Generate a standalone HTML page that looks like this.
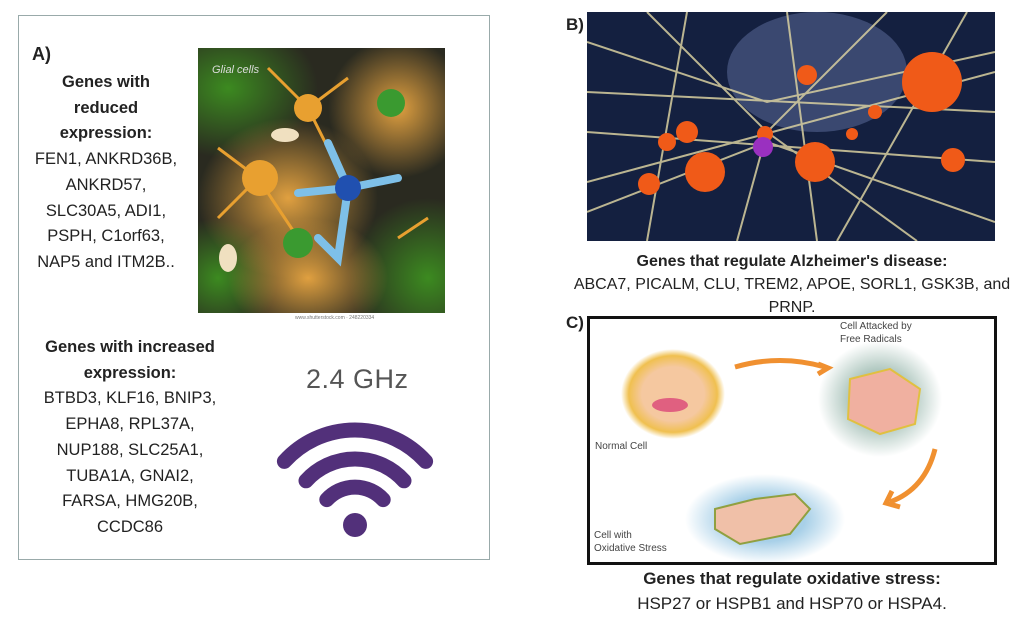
<!DOCTYPE html>
<html><head><meta charset="utf-8"><style>
html,body{margin:0;padding:0;background:#fff;width:1024px;height:624px;overflow:hidden}
body{position:relative;font-family:"Liberation Sans",sans-serif;color:#222}
.t{position:absolute;text-align:center;white-space:nowrap;line-height:25.7px}
.b{font-weight:bold}
</style></head><body>
<div style="position:absolute;left:18px;top:15px;width:470px;height:543px;border:1px solid #9aa;"></div>
<div class="t b" style="left:32px;top:42px;font-size:18px;text-align:left">A)</div>
<div class="t" style="left:0;width:212px;top:70px;font-size:16.5px">
<span class="b">Genes with<br>reduced<br>expression:</span><br>FEN1, ANKRD36B,<br>ANKRD57,<br>SLC30A5, ADI1,<br>PSPH, C1orf63,<br>NAP5 and ITM2B..</div>
<div class="t" style="left:20px;width:220px;top:335px;font-size:16.5px">
<span class="b">Genes with increased<br>expression:</span><br>BTBD3, KLF16, BNIP3,<br>EPHA8, RPL37A,<br>NUP188, SLC25A1,<br>TUBA1A, GNAI2,<br>FARSA, HMG20B,<br>CCDC86</div>

<svg style="position:absolute;left:198px;top:48px" width="247" height="265">
<defs>
<radialGradient id="o1" cx=".5" cy=".5" r=".5"><stop offset="0" stop-color="#e0a040"/><stop offset="1" stop-color="#e0a040" stop-opacity="0"/></radialGradient>
<radialGradient id="g1" cx=".5" cy=".5" r=".5"><stop offset="0" stop-color="#3c8a20"/><stop offset="1" stop-color="#3c8a20" stop-opacity="0"/></radialGradient>
</defs>
<rect width="247" height="265" fill="#2a2a20"/>
<ellipse cx="30" cy="40" rx="90" ry="70" fill="url(#g1)"/>
<ellipse cx="230" cy="230" rx="80" ry="80" fill="url(#g1)"/>
<ellipse cx="20" cy="230" rx="60" ry="60" fill="url(#g1)"/>
<ellipse cx="200" cy="60" rx="70" ry="70" fill="url(#o1)"/>
<ellipse cx="90" cy="150" rx="90" ry="80" fill="url(#o1)"/>
<ellipse cx="110" cy="230" rx="80" ry="60" fill="url(#o1)"/>
<text x="14" y="25" fill="#ddd" font-size="11" font-style="italic">Glial cells</text>
<g stroke="#e8a030" stroke-width="3" fill="none"><path d="M110 60 L70 20 M110 60 L150 30 M110 60 L140 120 M60 130 L20 100 M60 130 L20 170 M60 130 L100 190 M200 190 L230 170"/></g>
<circle cx="110" cy="60" r="14" fill="#e8a030"/><circle cx="62" cy="130" r="18" fill="#e8a030"/>
<circle cx="193" cy="55" r="14" fill="#3a9a30"/><circle cx="100" cy="195" r="15" fill="#3a9a30"/>
<g stroke="#7ec0e8" stroke-width="8" fill="none" stroke-linecap="round"><path d="M130 95 L150 140 L200 130 M150 140 L100 145 M150 140 L140 210 L120 190"/></g>
<circle cx="150" cy="140" r="13" fill="#2050b0"/>
<ellipse cx="87" cy="87" rx="14" ry="7" fill="#f0e0c0"/><ellipse cx="30" cy="210" rx="9" ry="14" fill="#f0e0c0"/>
</svg>
<div style="position:absolute;left:295px;top:315px;font-size:5px;color:#777">www.shutterstock.com · 248220334</div>

<div style="position:absolute;left:306px;top:364px;font-size:27px;color:#555;letter-spacing:0.5px">2.4 GHz</div>
<svg style="position:absolute;left:270px;top:400px" width="170" height="150">
<g stroke="#52307a" stroke-width="15" fill="none" stroke-linecap="round">
<path d="M14.4 61.4 A95 95 0 0 1 155.6 61.4"/>
<path d="M36 80.8 A66 66 0 0 1 134 80.8"/>
<path d="M56.8 99.6 A38 38 0 0 1 113.2 99.6"/>
</g><circle cx="85" cy="125" r="12" fill="#52307a"/></svg>

<div class="t b" style="left:566px;top:12px;font-size:17px;text-align:left">B)</div>
<svg style="position:absolute;left:587px;top:12px" width="408" height="229">
<rect width="408" height="229" fill="#142040"/>
<ellipse cx="230" cy="60" rx="90" ry="60" fill="#6070a0" opacity=".5"/>
<g stroke="#d8d0a0" stroke-width="2" fill="none" opacity=".85">
<path d="M0 30 L180 90 L408 40 M0 200 L180 130 L408 210 M60 0 L180 120 L150 229 M300 0 L180 120 L330 229 M0 120 L408 150 M100 0 L60 229 M380 0 L250 229 M0 80 L408 100 M200 0 L230 229 M0 170 L408 60"/>
</g>
<g fill="#f05a18"><circle cx="345" cy="70" r="30"/><circle cx="118" cy="160" r="20"/><circle cx="228" cy="150" r="20"/><circle cx="100" cy="120" r="11"/><circle cx="62" cy="172" r="11"/><circle cx="80" cy="130" r="9"/><circle cx="220" cy="63" r="10"/><circle cx="178" cy="122" r="8"/><circle cx="366" cy="148" r="12"/><circle cx="288" cy="100" r="7"/><circle cx="265" cy="122" r="6"/></g>
<circle cx="176" cy="135" r="10" fill="#9a30c0"/>
</svg>
<div class="t" style="left:560px;width:464px;top:250px;font-size:16px;line-height:23px"><span class="b">Genes that regulate Alzheimer's disease:</span><br>ABCA7, PICALM, CLU, TREM2, APOE, SORL1, GSK3B, and<br>PRNP.</div>

<div class="t b" style="left:566px;top:310px;font-size:17px;text-align:left">C)</div>
<div style="position:absolute;left:587px;top:316px;width:404px;height:243px;border:3px solid #111;background:#fff"></div>
<svg style="position:absolute;left:590px;top:319px" width="404" height="243">
<defs><radialGradient id="y" cx=".5" cy=".5" r=".5"><stop offset=".6" stop-color="#f5c8a0"/><stop offset=".85" stop-color="#f0c050"/><stop offset="1" stop-color="#fff"/></radialGradient>
<radialGradient id="gs" cx=".5" cy=".5" r=".5"><stop offset=".5" stop-color="#b0c8c0"/><stop offset="1" stop-color="#fff"/></radialGradient>
<radialGradient id="bs" cx=".5" cy=".5" r=".5"><stop offset=".5" stop-color="#a8d0e8"/><stop offset="1" stop-color="#fff"/></radialGradient></defs>
<ellipse cx="83" cy="75" rx="52" ry="45" fill="url(#y)"/>
<ellipse cx="80" cy="86" rx="18" ry="7" fill="#e06080"/>
<text x="5" y="130" font-size="10" fill="#444">Normal Cell</text>
<ellipse cx="290" cy="80" rx="62" ry="58" fill="url(#gs)"/>
<path d="M260 60 L300 50 L330 70 L325 105 L290 115 L258 100 Z" fill="#f0b0a0" stroke="#e0c040" stroke-width="2"/>
<text x="250" y="10" font-size="10" fill="#444">Cell Attacked by</text><text x="250" y="23" font-size="10" fill="#444">Free Radicals</text>
<ellipse cx="175" cy="200" rx="80" ry="45" fill="url(#bs)"/>
<path d="M125 190 L165 180 L205 175 L220 190 L200 215 L150 225 L125 210 Z" fill="#f0c0a8" stroke="#90a040" stroke-width="2"/>
<text x="4" y="219" font-size="10" fill="#444">Cell with</text><text x="4" y="232" font-size="10" fill="#444">Oxidative Stress</text>
<g stroke="#f09030" stroke-width="5" fill="none"><path d="M145 48 Q190 35 235 48"/><path d="M228 45 L238 49 L228 55"/><path d="M345 130 Q335 170 300 183"/><path d="M302 172 L296 184 L310 188"/></g>
</svg>
<div class="t" style="left:560px;width:464px;top:566px;font-size:17px;line-height:25px"><span class="b">Genes that regulate oxidative stress:</span><br>HSP27 or HSPB1 and HSP70 or HSPA4.</div>
</body></html>
